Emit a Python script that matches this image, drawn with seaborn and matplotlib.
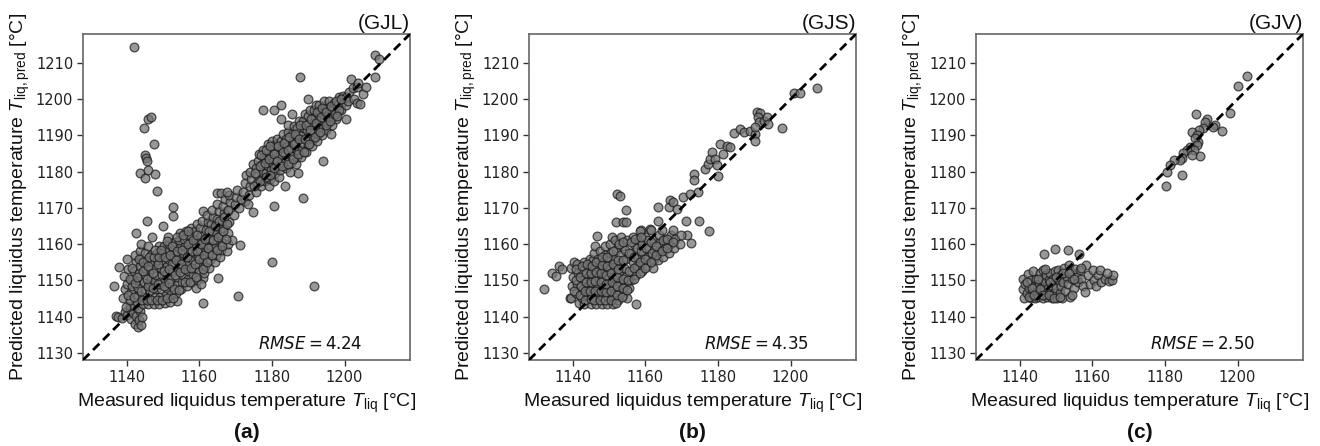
import matplotlib
matplotlib.use("Agg")
import matplotlib.pyplot as plt
import seaborn as sns
import pandas as pd

# ---------------- data ----------------
panel_names = ["(GJL)", "(GJS)", "(GJV)"]
panel_letters = ["(a)", "(b)", "(c)"]
rmse_values = [4.24, 4.35, 2.50]
x_ticks = [1140, 1160, 1180, 1200]
y_ticks = [1130, 1140, 1150, 1160, 1170, 1180, 1190, 1200, 1210]
axis_limits = [1128, 1218]

gjl_points = [
    # outliers
    (1142.0, 1214.5), (1187.8, 1206.2), (1208.5, 1212.3), (1209.5, 1211.0), (1208.3, 1206.0),
    (1189.8, 1200.1), (1177.6, 1197.1), (1180.6, 1197.1), (1182.4, 1198.3), (1182.5, 1194.4),
    (1185.4, 1195.8), (1144.8, 1192.0), (1145.9, 1194.6), (1146.6, 1195.0), (1147.6, 1187.5),
    (1145.0, 1184.6), (1145.4, 1183.7), (1145.7, 1182.9), (1143.7, 1179.6), (1145.0, 1178.2),
    (1145.9, 1180.5), (1147.8, 1179.4), (1148.5, 1174.7), (1145.5, 1166.5), (1152.7, 1170.2),
    (1152.7, 1167.8), (1150.0, 1164.9), (1142.6, 1163.0), (1147.1, 1162.0), (1161.0, 1143.7),
    (1153.8, 1144.2), (1170.7, 1145.7), (1171.1, 1159.7), (1167.2, 1165.2), (1180.1, 1155.0),
    (1191.6, 1148.5), (1180.6, 1170.6), (1188.5, 1172.8), (1187.1, 1179.6), (1194.0, 1182.9),
    (1174.9, 1168.8), (1172.7, 1171.9), (1164.8, 1174.0), (1166.0, 1174.0), (1161.1, 1169.0),
    (1136.5, 1148.3), (1137.9, 1153.6), (1137.2, 1140.1), (1161.0, 1150.6), (1165.2, 1150.6),
    # bottom-left tail
    (1137.5, 1140.0), (1138.8, 1139.6), (1139.5, 1141.2), (1140.2, 1140.5), (1140.8, 1142.0),
    (1141.3, 1139.3), (1141.8, 1141.0), (1142.3, 1138.0), (1142.6, 1140.2), (1143.2, 1137.2),
    (1143.5, 1139.0), (1143.8, 1141.5), (1144.0, 1137.8), (1144.3, 1140.0), (1141.0, 1143.0),
    (1142.0, 1142.8), (1139.8, 1142.5), (1143.0, 1142.3),
    # lower cluster
    (1139.0, 1145.0), (1139.5, 1147.5), (1140.0, 1149.0), (1139.3, 1151.2), (1140.5, 1153.0),
    (1140.0, 1155.8), (1141.0, 1144.5), (1141.2, 1146.8), (1141.5, 1148.5), (1141.8, 1150.5),
    (1142.0, 1152.5), (1142.5, 1155.0), (1142.2, 1157.0), (1142.8, 1144.0), (1143.0, 1146.0),
    (1143.2, 1148.0), (1143.5, 1150.0), (1143.3, 1152.0), (1143.8, 1154.0), (1144.0, 1156.0),
    (1143.6, 1158.0), (1144.0, 1160.0), (1144.5, 1143.5), (1144.8, 1145.5), (1145.0, 1147.5),
    (1144.7, 1149.5), (1145.2, 1151.5), (1145.0, 1153.5), (1145.5, 1155.5), (1145.2, 1157.5),
    (1145.8, 1159.5), (1146.0, 1143.5), (1146.3, 1145.0), (1146.5, 1147.0), (1146.2, 1149.0),
    (1146.8, 1151.0), (1146.5, 1153.0), (1147.0, 1155.0), (1146.8, 1157.0), (1147.5, 1143.5),
    (1147.8, 1145.5), (1148.0, 1147.5), (1147.6, 1149.5), (1148.2, 1151.5), (1148.0, 1153.5),
    (1148.5, 1155.5), (1148.3, 1157.5), (1148.8, 1159.5), (1149.0, 1143.5), (1149.3, 1145.5),
    (1149.5, 1147.5), (1149.2, 1149.5), (1149.8, 1151.5), (1149.5, 1153.5), (1150.0, 1155.5),
    (1149.8, 1157.5), (1150.3, 1159.5), (1150.5, 1143.8), (1150.8, 1146.0), (1151.0, 1148.0),
    (1150.7, 1150.0), (1151.2, 1152.0), (1151.0, 1154.0), (1151.5, 1156.0), (1151.3, 1158.0),
    (1151.8, 1160.0), (1151.5, 1162.0),
    (1152.0, 1144.0), (1152.3, 1146.2), (1152.5, 1148.5), (1152.2, 1150.5), (1152.8, 1152.5),
    (1152.5, 1154.5), (1153.0, 1156.5), (1152.8, 1158.5), (1153.3, 1160.5), (1153.5, 1146.5),
    (1153.8, 1148.8), (1154.0, 1151.0), (1153.8, 1153.0), (1154.3, 1155.0), (1154.0, 1157.0),
    (1154.5, 1159.0), (1154.3, 1161.0), (1154.8, 1163.0), (1155.0, 1147.5), (1155.3, 1149.5),
    (1155.5, 1151.5), (1155.2, 1153.5), (1155.8, 1155.5), (1155.5, 1157.5), (1156.0, 1159.5),
    (1155.8, 1161.5), (1156.3, 1163.5), (1156.5, 1148.5), (1156.8, 1150.5), (1157.0, 1152.5),
    (1156.7, 1154.5), (1157.2, 1156.5), (1157.0, 1158.5), (1157.5, 1160.5), (1157.3, 1162.5),
    (1157.8, 1164.5), (1158.0, 1149.5), (1158.3, 1151.5), (1158.5, 1153.5), (1158.2, 1155.5),
    (1158.8, 1157.5), (1158.5, 1159.5), (1159.0, 1161.5), (1158.8, 1163.5), (1159.3, 1165.5),
    (1159.5, 1150.0), (1159.8, 1152.5), (1160.0, 1154.5), (1159.7, 1156.5), (1160.2, 1158.5),
    (1160.0, 1160.5), (1160.5, 1162.5), (1160.3, 1164.5), (1160.8, 1166.5), (1159.0, 1148.0),
    (1160.5, 1149.0),
    (1161.2, 1152.0), (1161.5, 1154.0), (1161.0, 1156.0), (1161.8, 1158.0), (1161.5, 1160.0),
    (1162.0, 1162.0), (1161.8, 1164.0), (1162.3, 1166.0), (1162.0, 1168.0), (1162.8, 1153.5),
    (1163.0, 1155.5), (1162.7, 1157.5), (1163.2, 1159.5), (1163.0, 1161.5), (1163.5, 1163.5),
    (1163.3, 1165.5), (1163.8, 1167.5), (1163.5, 1169.5), (1164.2, 1155.0), (1164.5, 1157.0),
    (1164.2, 1159.0), (1164.8, 1161.0), (1164.5, 1163.0), (1165.0, 1165.0), (1164.8, 1167.0),
    (1165.3, 1169.0), (1165.0, 1171.0), (1165.8, 1156.5), (1166.0, 1158.5), (1166.3, 1160.5),
    (1166.0, 1162.5), (1166.5, 1164.5), (1166.3, 1166.5), (1166.8, 1168.5), (1166.5, 1170.5),
    (1167.0, 1172.5), (1167.5, 1158.0), (1167.8, 1160.0), (1168.0, 1163.0), (1168.3, 1166.0),
    (1168.0, 1169.0), (1168.5, 1171.5), (1168.3, 1173.5), (1169.0, 1161.0), (1169.5, 1168.0),
    (1169.8, 1171.0), (1170.0, 1173.0), (1170.3, 1175.0), (1167.5, 1174.5),
    # upper band
    (1171.0, 1170.0), (1171.5, 1172.5), (1172.0, 1174.5), (1172.5, 1177.0), (1172.8, 1179.0),
    (1173.5, 1171.0), (1173.8, 1173.5), (1174.0, 1176.0), (1174.3, 1178.0), (1174.0, 1180.0),
    (1174.8, 1182.0), (1175.5, 1174.5), (1175.8, 1177.0), (1176.0, 1179.0), (1175.7, 1181.0),
    (1176.3, 1183.0), (1176.5, 1185.0), (1177.0, 1176.0), (1177.3, 1178.0), (1177.5, 1180.0),
    (1177.2, 1182.0), (1177.8, 1184.0), (1177.5, 1186.0), (1178.0, 1177.5), (1178.5, 1179.5),
    (1178.8, 1181.5), (1178.5, 1183.5), (1179.0, 1185.5), (1178.8, 1187.5), (1179.3, 1176.0),
    (1179.5, 1178.0), (1179.8, 1180.5), (1180.0, 1182.5), (1179.7, 1184.5), (1180.2, 1186.5),
    (1180.0, 1188.5), (1180.5, 1177.5), (1180.8, 1179.5), (1181.0, 1181.5), (1180.7, 1183.5),
    (1181.2, 1185.5), (1181.0, 1187.5), (1181.5, 1189.0),
    (1182.0, 1178.5), (1182.3, 1180.5), (1182.5, 1182.5), (1182.2, 1184.5), (1182.8, 1186.5),
    (1182.5, 1188.5), (1183.0, 1190.5), (1183.5, 1176.0), (1183.8, 1181.0), (1184.0, 1183.0),
    (1183.7, 1185.0), (1184.2, 1187.0), (1184.0, 1189.0), (1184.5, 1191.0), (1184.3, 1193.0),
    (1185.0, 1180.0), (1185.3, 1182.5), (1185.5, 1184.5), (1185.2, 1186.5), (1185.8, 1188.5),
    (1185.5, 1190.5), (1186.0, 1192.5), (1186.5, 1182.0), (1186.8, 1184.0), (1187.0, 1186.0),
    (1186.7, 1188.0), (1187.2, 1190.0), (1187.0, 1192.0), (1187.5, 1194.0), (1188.0, 1184.0),
    (1188.3, 1186.0), (1188.5, 1188.0), (1188.2, 1190.0), (1188.8, 1192.0), (1188.5, 1194.0),
    (1189.0, 1196.0), (1189.5, 1185.5), (1189.8, 1187.5), (1190.0, 1189.5), (1189.7, 1191.5),
    (1190.2, 1193.5), (1190.0, 1195.5), (1190.5, 1197.0), (1191.0, 1187.0), (1191.3, 1189.0),
    (1191.5, 1191.0), (1191.2, 1193.0), (1191.8, 1195.0), (1191.5, 1197.0), (1192.0, 1198.5),
    (1192.5, 1188.5), (1192.8, 1190.5), (1193.0, 1192.5), (1192.7, 1194.5), (1193.2, 1196.5),
    (1193.0, 1198.5), (1193.8, 1190.0), (1194.0, 1192.0), (1194.3, 1194.0), (1194.0, 1196.0),
    (1194.5, 1198.0), (1194.3, 1199.5), (1195.0, 1191.5), (1195.3, 1193.5), (1195.5, 1195.5),
    (1195.2, 1197.5), (1195.8, 1199.5), (1196.3, 1190.5), (1196.5, 1193.0), (1196.8, 1195.0),
    (1196.5, 1197.0), (1197.0, 1199.0), (1197.5, 1194.5), (1197.8, 1196.5), (1198.0, 1198.5),
    (1198.5, 1200.5), (1199.0, 1197.0), (1199.3, 1199.0), (1199.5, 1201.0), (1200.5, 1194.4),
    (1200.3, 1198.5), (1200.5, 1200.5), (1201.0, 1199.5), (1201.3, 1202.0), (1201.7, 1205.5),
    (1202.3, 1203.0), (1202.5, 1200.0), (1203.3, 1203.3), (1203.3, 1199.0), (1204.2, 1198.6),
    (1205.1, 1201.4), (1205.8, 1203.3), (1203.8, 1204.5),
]

gjl_points_dense = [
    (1140.5, 1146.0), (1140.8, 1150.5), (1141.5, 1153.5), (1142.0, 1145.5), (1142.3, 1149.2),
    (1142.8, 1151.0), (1143.3, 1156.0), (1144.2, 1144.5), (1144.0, 1147.0), (1144.5, 1152.5),
    (1144.6, 1155.0), (1145.5, 1144.5), (1145.8, 1148.5), (1145.6, 1150.5), (1146.0, 1154.0),
    (1146.2, 1156.5), (1146.8, 1144.5), (1147.2, 1148.0), (1147.3, 1152.0), (1147.5, 1156.5),
    (1147.8, 1158.5), (1148.3, 1144.5), (1148.6, 1149.0), (1148.7, 1154.5), (1149.0, 1156.5),
    (1149.5, 1158.5), (1149.8, 1144.5), (1150.2, 1148.5), (1150.4, 1152.5), (1150.6, 1156.5),
    (1151.0, 1160.8), (1151.2, 1145.0), (1151.6, 1149.2), (1151.8, 1153.0), (1152.0, 1157.0),
    (1152.5, 1159.5), (1152.8, 1145.0), (1153.0, 1147.5), (1153.3, 1151.5), (1153.5, 1155.5),
    (1153.8, 1158.0), (1154.0, 1162.0), (1154.5, 1147.2), (1154.8, 1152.3), (1155.0, 1154.5),
    (1155.3, 1158.5), (1155.5, 1162.5), (1156.0, 1149.5), (1156.2, 1153.0), (1156.5, 1156.5),
    (1156.8, 1160.0), (1157.0, 1163.5), (1157.5, 1149.5), (1157.7, 1153.5), (1158.0, 1158.0),
    (1158.2, 1161.0), (1158.8, 1154.5), (1159.0, 1151.0), (1159.3, 1158.0), (1159.5, 1162.5),
    (1160.0, 1156.0), (1160.5, 1160.0), (1161.0, 1153.0), (1161.3, 1157.0), (1161.7, 1161.5),
    (1162.2, 1155.0), (1162.5, 1159.0), (1162.8, 1163.5), (1163.5, 1157.0), (1163.8, 1161.0),
    (1164.2, 1165.0), (1164.8, 1158.5), (1165.2, 1162.0), (1165.5, 1166.5), (1166.2, 1159.5),
    (1166.5, 1163.5), (1166.8, 1167.5), (1167.3, 1161.5), (1167.5, 1165.5), (1167.8, 1169.5),
    (1175.0, 1176.0), (1175.3, 1179.5), (1176.8, 1177.5), (1176.8, 1181.5), (1177.0, 1184.5),
    (1178.3, 1178.5), (1178.0, 1182.5), (1178.5, 1186.0), (1179.5, 1179.0), (1179.3, 1183.5),
    (1179.6, 1187.0), (1180.7, 1181.0), (1180.5, 1185.0), (1181.5, 1183.0), (1181.8, 1187.0),
    (1182.8, 1181.5), (1183.0, 1185.5), (1183.3, 1188.0), (1184.3, 1182.0), (1184.5, 1186.0),
    (1184.8, 1189.5), (1185.8, 1183.5), (1186.0, 1187.5), (1186.3, 1190.5), (1187.3, 1185.0),
    (1187.5, 1189.0), (1187.8, 1193.0), (1188.8, 1185.5), (1189.0, 1189.0), (1189.3, 1193.0),
    (1190.3, 1187.5), (1190.5, 1191.5), (1190.8, 1194.5), (1191.8, 1189.5), (1192.0, 1193.5),
    (1192.3, 1196.5), (1193.3, 1191.0), (1193.5, 1195.0), (1193.8, 1197.5), (1194.8, 1193.0),
    (1195.0, 1196.5), (1196.0, 1194.0), (1196.3, 1198.0), (1197.3, 1196.0), (1197.5, 1199.5),
    (1198.5, 1197.0), (1199.0, 1200.0), (1198.0, 1195.5),
]

gjs_points = [
    # outliers / sparse
    (1132.1, 1147.7), (1134.2, 1152.0), (1135.4, 1151.1), (1136.2, 1153.9), (1137.0, 1153.2),
    (1139.3, 1145.0), (1152.1, 1173.8), (1153.0, 1173.3), (1154.8, 1169.5), (1152.0, 1166.0),
    (1153.9, 1166.0), (1154.7, 1166.0), (1158.8, 1163.9), (1161.2, 1164.1), (1157.4, 1143.4),
    (1163.5, 1170.2), (1163.5, 1166.5), (1171.1, 1166.5), (1171.4, 1162.5), (1172.5, 1160.4),
    (1174.7, 1166.5), (1177.5, 1163.7), (1166.8, 1172.2), (1166.4, 1170.2), (1167.7, 1171.6),
    (1168.6, 1169.7), (1170.5, 1172.9), (1172.4, 1173.9), (1174.4, 1174.3), (1173.3, 1179.4),
    (1173.3, 1177.7), (1176.5, 1180.8), (1177.4, 1182.1), (1177.9, 1183.5), (1178.3, 1185.3),
    (1179.2, 1183.5), (1179.7, 1181.7), (1180.1, 1178.9), (1180.6, 1187.7), (1181.5, 1184.9),
    (1182.4, 1187.2), (1183.3, 1186.7), (1184.3, 1190.6), (1186.2, 1191.8), (1187.1, 1190.9),
    (1188.9, 1191.3), (1190.3, 1190.4), (1190.3, 1188.4), (1190.7, 1196.4), (1191.6, 1196.1),
    (1190.9, 1195.0), (1191.2, 1193.6), (1192.6, 1193.9), (1193.5, 1195.2), (1193.9, 1193.2),
    (1197.6, 1192.0), (1190.3, 1192.3), (1201.0, 1201.7), (1202.5, 1201.7), (1207.2, 1203.0),
    # dense cloud
    (1139.5, 1145.0), (1139.8, 1148.5), (1140.0, 1151.0), (1139.6, 1153.5), (1140.3, 1155.0),
    (1141.0, 1146.5), (1141.3, 1149.0), (1141.5, 1152.0), (1141.2, 1154.5), (1141.8, 1143.8),
    (1142.5, 1145.0), (1142.8, 1147.5), (1143.0, 1150.0), (1142.7, 1152.5), (1143.2, 1155.0),
    (1143.0, 1143.5), (1144.0, 1146.0), (1144.3, 1148.5), (1144.5, 1151.0), (1144.2, 1153.5),
    (1144.8, 1156.0), (1145.0, 1143.5), (1145.3, 1145.8), (1145.5, 1148.2), (1145.2, 1150.5),
    (1145.8, 1153.0), (1145.5, 1155.5), (1146.0, 1157.5), (1146.1, 1159.4), (1146.6, 1162.3),
    (1146.5, 1143.5), (1146.8, 1146.0), (1147.0, 1148.5), (1146.7, 1151.0), (1147.2, 1153.5),
    (1147.0, 1156.0), (1147.5, 1158.0), (1148.0, 1143.5), (1148.3, 1145.5), (1148.5, 1147.8),
    (1148.2, 1150.0), (1148.8, 1152.5), (1148.5, 1155.0), (1149.0, 1157.0), (1148.8, 1159.5),
    (1149.5, 1143.5), (1149.8, 1145.8), (1150.0, 1148.0), (1149.7, 1150.5), (1150.2, 1153.0),
    (1150.0, 1155.5), (1150.5, 1157.5), (1150.3, 1160.0), (1150.8, 1162.0),
    (1151.0, 1143.5), (1151.3, 1146.0), (1151.5, 1148.5), (1151.2, 1151.0), (1151.8, 1153.5),
    (1151.5, 1156.0), (1152.0, 1158.5), (1151.8, 1161.0), (1152.5, 1144.5), (1152.8, 1147.0),
    (1153.0, 1149.5), (1152.7, 1152.0), (1153.2, 1154.5), (1153.0, 1157.0), (1153.5, 1159.5),
    (1153.3, 1162.0), (1154.0, 1146.0), (1154.3, 1148.5), (1154.5, 1151.0), (1154.2, 1153.5),
    (1154.8, 1156.0), (1154.5, 1158.5), (1155.0, 1161.0), (1155.1, 1145.2), (1155.6, 1148.0),
    (1156.0, 1150.0), (1156.3, 1152.5), (1156.5, 1155.0), (1156.2, 1157.5), (1156.8, 1160.0),
    (1156.5, 1162.0), (1157.5, 1151.5), (1157.8, 1154.0), (1158.0, 1156.5), (1157.7, 1159.0),
    (1158.3, 1161.0), (1159.0, 1152.5), (1159.3, 1155.0), (1159.5, 1157.5), (1159.2, 1160.0),
    (1160.0, 1162.0), (1160.5, 1154.0), (1160.8, 1156.5), (1161.0, 1159.0), (1160.7, 1161.0),
    (1162.0, 1153.5), (1162.3, 1156.0), (1162.5, 1158.5), (1162.2, 1161.0), (1163.5, 1155.5),
    (1163.8, 1158.0), (1164.0, 1160.5), (1163.7, 1162.5), (1165.0, 1156.5), (1165.3, 1159.0),
    (1165.5, 1161.5), (1166.5, 1157.5), (1166.8, 1160.0), (1167.0, 1162.5), (1168.0, 1159.0),
    (1168.3, 1161.5), (1169.5, 1160.0), (1169.8, 1162.5), (1167.5, 1164.0), (1164.5, 1164.0),
    (1158.5, 1163.5), (1161.5, 1164.0),
]

gjs_points_dense = [
    (1140.5, 1147.0), (1140.8, 1150.0), (1141.0, 1153.0), (1142.0, 1146.0), (1142.2, 1148.5),
    (1142.0, 1151.0), (1142.5, 1154.0), (1143.5, 1144.5), (1143.5, 1147.0), (1143.8, 1149.5),
    (1143.8, 1152.0), (1144.0, 1154.5), (1145.0, 1144.8), (1144.8, 1147.0), (1145.0, 1149.5),
    (1145.0, 1152.0), (1145.3, 1154.0), (1146.0, 1144.5), (1146.2, 1147.0), (1146.3, 1149.8),
    (1146.5, 1152.3), (1146.5, 1155.0), (1147.5, 1144.5), (1147.7, 1147.0), (1147.8, 1149.5),
    (1147.8, 1152.0), (1148.0, 1154.2), (1148.0, 1156.5), (1149.0, 1144.5), (1149.2, 1146.8),
    (1149.3, 1149.0), (1149.2, 1151.5), (1149.5, 1154.0), (1149.5, 1156.3), (1150.5, 1144.5),
    (1150.7, 1147.0), (1150.8, 1149.5), (1150.7, 1152.0), (1151.0, 1154.5), (1151.0, 1158.0),
    (1152.0, 1143.8), (1152.2, 1146.0), (1152.3, 1148.5), (1152.3, 1150.8), (1152.5, 1153.0),
    (1152.5, 1155.5), (1152.8, 1160.0), (1153.5, 1145.5), (1153.8, 1148.0), (1153.8, 1150.5),
    (1154.0, 1155.5), (1154.0, 1160.5), (1155.0, 1147.2), (1155.3, 1150.0), (1155.5, 1152.5),
    (1155.5, 1157.5), (1156.0, 1160.5), (1157.0, 1150.5), (1157.0, 1153.5), (1157.0, 1156.5),
    (1157.3, 1161.5), (1158.5, 1152.0), (1158.5, 1155.0), (1158.7, 1158.0), (1158.8, 1162.0),
    (1160.0, 1153.5), (1160.0, 1156.0), (1160.3, 1159.0), (1161.5, 1155.0), (1161.8, 1157.5),
    (1161.5, 1160.5), (1163.0, 1157.0), (1163.0, 1159.5), (1164.5, 1158.0), (1164.8, 1161.0),
    (1166.0, 1159.0), (1166.0, 1161.5), (1167.5, 1160.5),
]

gjv_points = [
    # lower cluster
    (1140.9, 1150.5), (1141.0, 1147.5), (1141.2, 1145.0), (1141.5, 1149.0), (1142.0, 1146.5),
    (1142.3, 1151.7), (1142.7, 1148.0), (1143.0, 1145.0), (1143.2, 1150.0), (1143.5, 1146.5),
    (1143.8, 1152.5), (1144.0, 1148.5), (1144.3, 1145.0), (1144.5, 1150.5), (1144.8, 1147.0),
    (1145.0, 1145.5), (1145.3, 1149.0), (1145.5, 1152.0), (1145.8, 1146.0), (1146.0, 1148.0),
    (1146.2, 1150.5), (1146.4, 1152.9), (1146.5, 1145.0), (1146.8, 1147.5), (1147.0, 1149.5),
    (1147.3, 1151.5), (1147.5, 1145.5), (1147.8, 1148.0), (1148.0, 1150.0), (1148.2, 1146.5),
    (1148.5, 1152.0), (1148.8, 1145.0), (1149.0, 1148.5), (1149.2, 1150.5), (1149.5, 1146.5),
    (1149.8, 1152.5), (1150.0, 1148.0), (1150.3, 1145.0), (1150.5, 1152.9), (1150.8, 1150.0),
    (1151.0, 1146.5), (1151.3, 1148.5), (1151.5, 1151.5), (1151.8, 1145.0), (1152.0, 1149.5),
    (1152.3, 1153.5), (1152.6, 1147.0), (1153.0, 1151.0), (1153.3, 1149.0), (1153.7, 1154.3),
    (1153.8, 1145.3), (1154.0, 1152.5), (1154.5, 1150.5), (1155.0, 1148.0), (1155.3, 1153.0),
    (1155.8, 1151.0), (1156.0, 1149.5), (1156.5, 1152.9), (1157.0, 1150.5), (1157.5, 1148.5),
    (1158.0, 1146.8), (1158.3, 1154.3), (1158.8, 1151.5), (1159.3, 1149.0), (1160.1, 1152.9),
    (1160.5, 1150.0), (1161.0, 1148.5), (1161.5, 1151.5), (1162.2, 1152.9), (1162.5, 1149.5),
    (1163.5, 1150.5), (1164.7, 1149.7), (1165.3, 1150.2), (1165.6, 1151.6), (1164.0, 1152.0),
    (1146.8, 1157.2), (1149.8, 1158.6), (1153.3, 1158.4), (1156.3, 1157.2),
    (1142.0, 1149.5), (1142.5, 1145.5), (1143.5, 1148.0), (1144.0, 1146.0), (1145.0, 1150.5),
    (1145.5, 1147.5), (1146.5, 1146.0), (1147.0, 1153.0), (1148.0, 1146.0), (1148.5, 1149.5),
    (1149.5, 1145.0), (1150.0, 1151.0), (1151.0, 1145.5), (1152.0, 1152.0), (1153.5, 1152.0),
    (1155.0, 1150.5), (1154.5, 1146.0), (1157.0, 1153.5),
    # upper cluster
    (1202.7, 1206.4), (1200.0, 1203.7), (1197.8, 1196.1), (1195.7, 1191.1), (1188.6, 1195.8),
    (1191.7, 1194.6), (1191.1, 1193.8), (1193.8, 1193.0), (1193.3, 1192.4), (1190.6, 1192.0),
    (1189.3, 1191.6), (1187.5, 1191.0), (1188.8, 1190.1), (1189.2, 1188.3), (1188.3, 1189.2),
    (1188.8, 1187.4), (1187.0, 1186.9), (1187.9, 1186.0), (1189.7, 1184.2), (1186.0, 1186.0),
    (1185.1, 1185.1), (1184.7, 1183.7), (1187.4, 1184.6), (1184.2, 1183.2), (1182.4, 1183.2),
    (1181.4, 1181.9), (1180.5, 1180.0), (1184.7, 1179.1), (1180.3, 1175.9),
]

all_points = [gjl_points + gjl_points_dense, gjs_points + gjs_points_dense, gjv_points]

# ---------------- styling ----------------
sns.set_theme(style="ticks")
plt.rcParams["font.family"] = ["Liberation Sans", "DejaVu Sans"]
plt.rcParams["mathtext.fontset"] = "custom"
plt.rcParams["mathtext.rm"] = "Liberation Sans"
plt.rcParams["mathtext.it"] = "Liberation Sans:italic"
plt.rcParams["mathtext.bf"] = "Liberation Sans:bold"

fig = plt.figure(figsize=(13.2, 4.46), dpi=100)
lefts = [83 / 1320, 529 / 1320, 976 / 1320]
ax_w = 327 / 1320
ax_b = 1 - 360 / 446
ax_h = 326 / 446

for i, pts in enumerate(all_points):
    ax = fig.add_axes([lefts[i], ax_b, ax_w, ax_h])
    df = pd.DataFrame(pts, columns=["measured", "predicted"])
    sns.scatterplot(data=df, x="measured", y="predicted", ax=ax,
                    s=40, color="#767676", alpha=0.75,
                    edgecolor="#1a1a1a", linewidth=0.9, zorder=2)
    ax.plot(axis_limits, axis_limits, ls="--", color="black", lw=2.0,
            dashes=(3.2, 1.9), zorder=3)
    ax.set_xlim(axis_limits)
    ax.set_ylim(axis_limits)
    ax.set_xticks(x_ticks)
    ax.set_yticks(y_ticks)
    for lab in ax.get_xticklabels() + ax.get_yticklabels():
        lab.set_fontfamily("DejaVu Sans")
        lab.set_fontsize(10.5)
        lab.set_color("#222222")
    ax.tick_params(length=4, width=1, color="#333333", pad=3)
    for sp in ax.spines.values():
        sp.set_color("#666666")
        sp.set_linewidth(1.2)
    ax.set_xlabel(r"Measured liquidus temperature $T_\mathrm{liq}$ [°C]",
                  fontsize=14, labelpad=5, color="#111111")
    ax.set_ylabel(r"Predicted liquidus temperature $T_\mathrm{liq,pred}$ [°C]",
                  fontsize=14, labelpad=3, color="#111111")
    ax.text(1.0, 1.004, panel_names[i], transform=ax.transAxes,
            ha="right", va="bottom", fontsize=15, color="#111111")
    ax.text(0.855, 0.035, r"$RMSE = %.2f$" % rmse_values[i], transform=ax.transAxes,
            ha="right", va="baseline", fontsize=12, math_fontfamily="dejavusans",
            color="#111111")
    fig.text(lefts[i] + ax_w / 2, 1 - 433 / 446, panel_letters[i],
             ha="center", va="center", fontsize=15, fontweight="bold", color="#111111")

fig.savefig("out.png", dpi=100)
